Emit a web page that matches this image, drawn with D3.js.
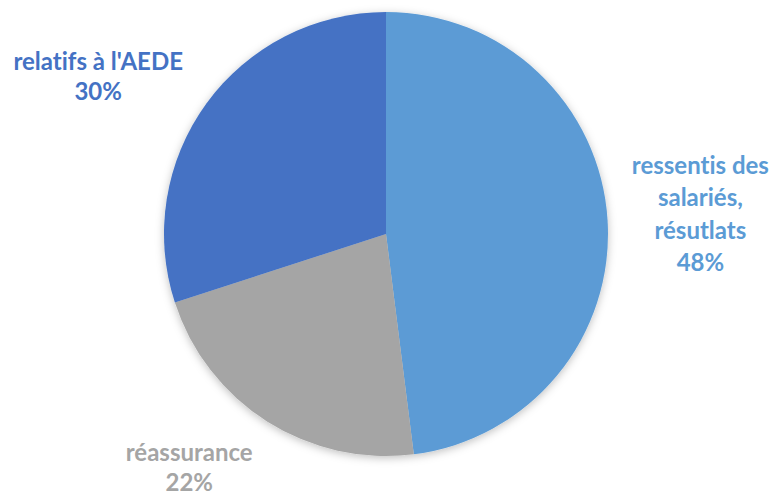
<!DOCTYPE html>
<html>
<head>
<meta charset="utf-8">
<script src="https://cdn.jsdelivr.net/npm/d3@7"></script>
<style>
  body { margin: 0; background: #fff; }
  svg { display: block; }
  .lbl { font-variant-ligatures: none; font-feature-settings: "liga" 0; }
</style>
</head>
<body>
<svg id="drawing_region"></svg>
<script>
// chart data
const labels = ["ressentis des salariés, résutlats", "réassurance", "relatifs à l'AEDE"];
const values = [48, 22, 30];
const colors = ["#5B9BD5", "#A5A5A5", "#4472C4"];
// label text lines (as wrapped in the original)
const labelLines = [["ressentis des", "salariés,", "résutlats"], ["réassurance"], ["relatifs à l'AEDE"]];

const width = 780, height = 497;
const cx = 386, cy = 234, radius = 222;

const svg = d3.select('#drawing_region')
    .attr('width', width)
    .attr('height', height);

const defs = svg.append('defs');
const filter = defs.append('filter')
    .attr('id', 'shadow')
    .attr('x', '-20%').attr('y', '-20%')
    .attr('width', '140%').attr('height', '140%');
filter.append('feDropShadow')
    .attr('dx', 0).attr('dy', 2)
    .attr('stdDeviation', 4)
    .attr('flood-color', '#000')
    .attr('flood-opacity', 0.25);

const data = labels.map((l, i) => ({ label: l, value: values[i], color: colors[i], lines: labelLines[i] }));

const pie = d3.pie().sort(null).value(d => d.value);
const arc = d3.arc().innerRadius(0).outerRadius(radius);
const labelArc = d3.arc().innerRadius(315).outerRadius(315);

const g = svg.append('g')
    .attr('transform', `translate(${cx}, ${cy})`);

const arcs = pie(data);

g.append('g')
    .attr('filter', 'url(#shadow)')
    .selectAll('path')
    .data(arcs)
    .enter()
    .append('path')
    .attr('d', arc)
    .attr('fill', d => d.data.color);

// Excel shifts the outside labels a bit to keep them on the canvas
const nudge = [[0, 0], [-28, -32], [-33, 28]];
const lineH = [32.5, 30, 30];

const lbl = g.selectAll('.lbl')
    .data(arcs)
    .enter()
    .append('text')
    .attr('class', 'lbl')
    .attr('text-anchor', 'middle')
    .attr('font-family', 'Lato, "Open Sans", sans-serif')
    .attr('font-weight', 'bold')
    .attr('font-size', '24px')
    .attr('fill', d => d.data.color)
    .attr('transform', (d, i) => {
        const c = labelArc.centroid(d);
        return `translate(${c[0] + nudge[i][0]}, ${c[1] + nudge[i][1]})`;
    });

lbl.each(function(d, i) {
    const lines = d.data.lines.concat([d.data.value + '%']);
    const top = -(lines.length - 1) * lineH[i] / 2;
    d3.select(this).selectAll('tspan')
        .data(lines)
        .enter()
        .append('tspan')
        .attr('x', 0)
        .attr('y', (t, j) => top + j * lineH[i])
        .attr('dy', '0.35em')
        .text(t => t);
});
</script>
</body>
</html>
